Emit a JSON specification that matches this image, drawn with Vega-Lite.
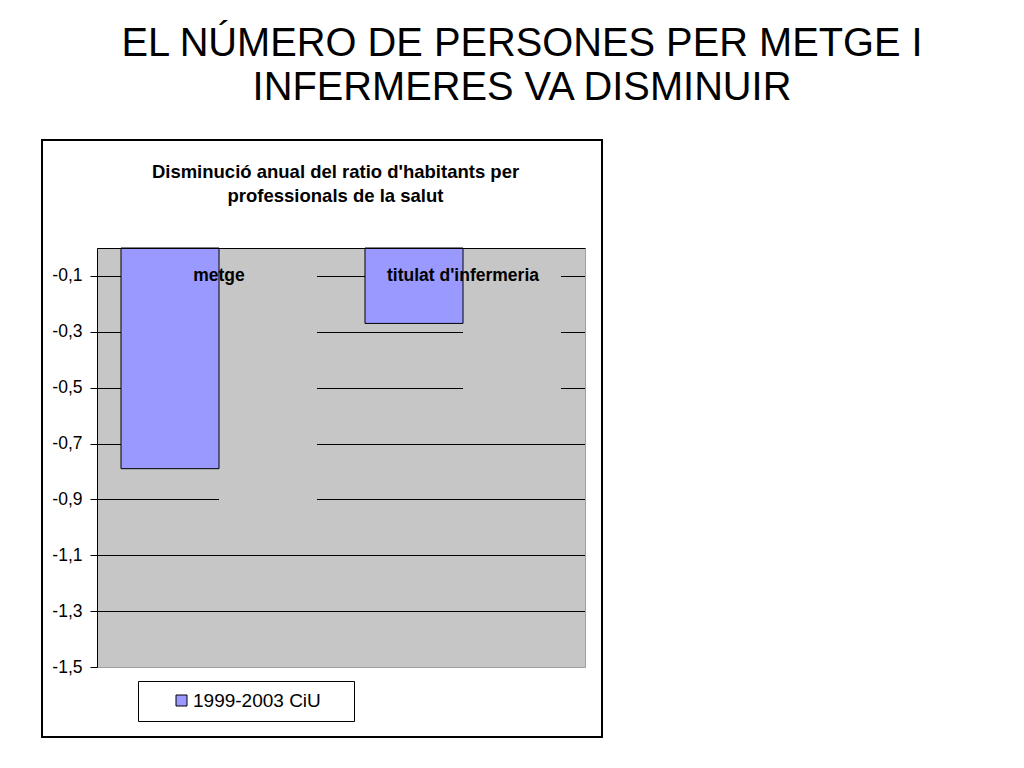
{
  "$schema": "https://vega.github.io/schema/vega-lite/v6.json",
  "autosize": "none",
  "padding": {"left": 42, "top": 140, "right": 422, "bottom": 31},
  "width": 560,
  "height": 597,
  "background": "white",
  "title": {
    "text": ["EL NÚMERO DE PERSONES PER METGE I", "INFERMERES VA DISMINUIR"],
    "font": "Liberation Sans",
    "fontSize": 39.8,
    "fontWeight": "normal",
    "color": "black",
    "lineHeight": 44,
    "anchor": "middle",
    "frame": "group",
    "dx": 200,
    "offset": 31
  },
  "data": {
    "values": [
      {"cat": "metge", "serie": "1999-2003 CiU", "valor": -0.79},
      {"cat": "titulat d'infermeria", "serie": "1999-2003 CiU", "valor": -0.27},
      {"cat": "metge", "serie": "ocult", "valor": -1.0},
      {"cat": "titulat d'infermeria", "serie": "ocult", "valor": -0.6}
    ]
  },
  "resolve": {"axis": {"x": "independent", "y": "independent"}},
  "layer": [
    {
      "transform": [{"filter": "datum.serie == 'ocult'"}],
      "mark": {"type": "bar", "color": "#C6C6C6"},
      "encoding": {
        "x": {
          "field": "cat",
          "type": "nominal",
          "sort": null,
          "scale": {"range": [55, 543], "paddingInner": 0, "paddingOuter": 0},
          "axis": {
            "orient": "top",
            "grid": true,
            "gridColor": "#C6C6C6",
            "gridWidth": 245,
            "gridOpacity": 1,
            "domain": false,
            "ticks": false,
            "labels": false,
            "title": null,
            "zindex": 0
          }
        },
        "xOffset": {
          "field": "serie",
          "scale": {"domain": ["1999-2003 CiU", "ocult"], "paddingInner": 0, "paddingOuter": 0.245}
        },
        "y": {
          "field": "valor",
          "type": "quantitative",
          "scale": {"domain": [-1.5, 0], "range": [527, 108], "nice": false},
          "axis": {
            "orient": "left",
            "offset": -55,
            "values": [-0.1, -0.3, -0.5, -0.7, -0.9, -1.1, -1.3, -1.5],
            "labelExpr": "replace(toString(datum.value), '.', ',')",
            "labelFontSize": 17.5,
            "labelColor": "black",
            "labelPadding": 8,
            "tickSize": 7,
            "tickColor": "black",
            "domainColor": "black",
            "grid": true,
            "gridColor": {"condition": {"test": "datum.value < -1.4", "value": "#A0A0A0"}, "value": "black"},
            "gridOpacity": 1,
            "title": null,
            "zindex": 0
          }
        }
      }
    },
    {
      "transform": [{"filter": "datum.serie == '1999-2003 CiU'"}],
      "mark": {"type": "bar", "stroke": "black", "strokeWidth": 1},
      "encoding": {
        "x": {
          "field": "cat",
          "type": "nominal",
          "sort": null,
          "axis": {
            "orient": "top",
            "offset": -108,
            "domainColor": "black",
            "ticks": false,
            "grid": false,
            "labelAngle": 0,
            "labelFontSize": 17.5,
            "labelFontWeight": "bold",
            "labelColor": "black",
            "labelBaseline": "middle",
            "labelPadding": -27,
            "title": ["Disminució anual del ratio d'habitants per", "professionals de la salut"],
            "titleFontSize": 18.5,
            "titleFontWeight": "bold",
            "titleColor": "black",
            "titleLineHeight": 24,
            "titleBaseline": "top",
            "titleAlign": "center",
            "titleX": 293,
            "titleY": -86,
            "zindex": 1
          }
        },
        "xOffset": {"field": "serie"},
        "y": {
          "field": "valor",
          "type": "quantitative",
          "axis": {
            "orient": "right",
            "offset": -17,
            "domainColor": "#A0A0A0",
            "ticks": false,
            "labels": false,
            "grid": false,
            "title": null
          }
        },
        "color": {
          "field": "serie",
          "type": "nominal",
          "scale": {"range": ["#9999FF"]},
          "legend": {
            "orient": "none",
            "legendX": 96,
            "legendY": 541,
            "title": "\u00a0",
            "titleOrient": "right",
            "titlePadding": 23,
            "titleFontSize": 11,
            "strokeColor": "black",
            "fillColor": "white",
            "padding": 10,
            "symbolType": "square",
            "symbolSize": 121,
            "symbolStrokeColor": "black",
            "symbolStrokeWidth": 1,
            "symbolOffset": 24,
            "labelFontSize": 19,
            "labelColor": "black",
            "labelOffset": 2
          }
        }
      }
    }
  ],
  "config": {
    "font": "Liberation Sans",
    "view": {"stroke": "black", "strokeWidth": 2, "fill": "white"}
  }
}
